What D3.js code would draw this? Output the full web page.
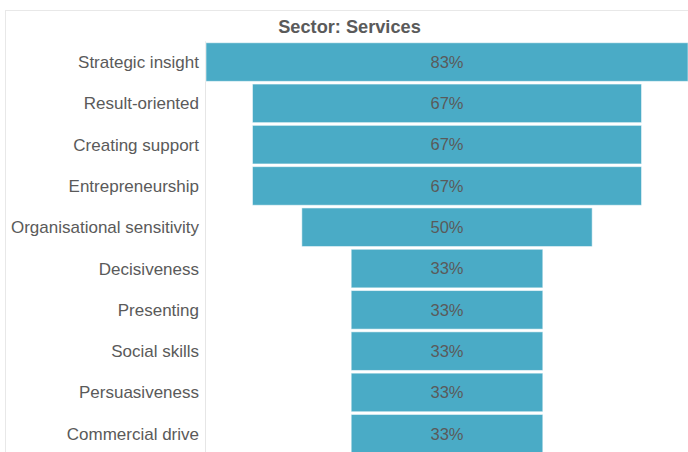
<!DOCTYPE html>
<html>
<head>
<meta charset="utf-8">
<script src="https://cdn.jsdelivr.net/npm/d3@7"></script>
<style>
  html, body { margin: 0; padding: 0; background: #fff; }
  svg { display: block; }
</style>
</head>
<body>
<svg id="chart" width="688" height="452"></svg>
<script>
// Competencies ranked for the services sector
const categories = [
  "Strategic insight",
  "Result-oriented",
  "Creating support",
  "Entrepreneurship",
  "Organisational sensitivity",
  "Decisiveness",
  "Presenting",
  "Social skills",
  "Persuasiveness",
  "Commercial drive"
];
const values = [83, 67, 67, 67, 50, 33, 33, 33, 33, 33];
const title = "Sector: Services";

const svg = d3.select("#chart");
const W = 688, H = 452;
const font = "'Liberation Sans', Arial, Helvetica, sans-serif";
const textColor = "#5a5a5a";
const barColor = "#4aabc6";

const frameLeft = 5, frameTop = 10, axisX = 205;

// Symmetric horizontal scale: each bar is centred, width proportional to value
const maxV = d3.max(values);
const x = d3.scaleLinear().domain([-maxV, maxV]).range([206, 688]);
const y = d3.scaleBand()
  .domain(categories)
  .range([41.4, 454.4])
  .paddingInner(0.065)
  .paddingOuter(0.0325);

const data = categories.map((c, i) => ({ cat: c, v: values[i] }));

// Light frame and the divider between labels and bars
svg.append("line")
  .attr("x1", frameLeft).attr("x2", W)
  .attr("y1", frameTop + 0.5).attr("y2", frameTop + 0.5)
  .attr("stroke", "#e8e8e8").attr("stroke-width", 1);
svg.append("line")
  .attr("x1", frameLeft + 0.5).attr("x2", frameLeft + 0.5)
  .attr("y1", frameTop).attr("y2", H)
  .attr("stroke", "#e8e8e8").attr("stroke-width", 1);
svg.append("line")
  .attr("x1", axisX + 0.5).attr("x2", axisX + 0.5)
  .attr("y1", y.range()[0]).attr("y2", H)
  .attr("stroke", "#e6e6e6").attr("stroke-width", 1);

// Title
svg.append("text")
  .attr("x", 349.5).attr("y", 33)
  .attr("text-anchor", "middle")
  .attr("font-family", font)
  .attr("font-size", "18.2px")
  .attr("font-weight", "bold")
  .attr("fill", textColor)
  .text(title);

// Funnel bars
svg.append("g").selectAll("rect")
  .data(data)
  .join("rect")
  .attr("x", d => x(-d.v))
  .attr("width", d => x(d.v) - x(-d.v))
  .attr("y", d => y(d.cat))
  .attr("height", y.bandwidth())
  .attr("fill", barColor)
  .attr("stroke", "rgba(255,255,255,0.55)")
  .attr("stroke-width", 1);

// Value labels centred in each bar
svg.append("g").selectAll("text")
  .data(data)
  .join("text")
  .attr("x", x(0))
  .attr("y", d => y(d.cat) + y.bandwidth() / 2)
  .attr("dy", "0.35em")
  .attr("text-anchor", "middle")
  .attr("font-family", font)
  .attr("font-size", "16.5px")
  .attr("fill", textColor)
  .text(d => d.v + "%");

// Category labels
svg.append("g").selectAll("text")
  .data(data)
  .join("text")
  .attr("x", 199)
  .attr("y", d => y(d.cat) + y.bandwidth() / 2)
  .attr("dy", "0.35em")
  .attr("text-anchor", "end")
  .attr("font-family", font)
  .attr("font-size", "17px")
  .attr("fill", textColor)
  .text(d => d.cat);
</script>
</body>
</html>
